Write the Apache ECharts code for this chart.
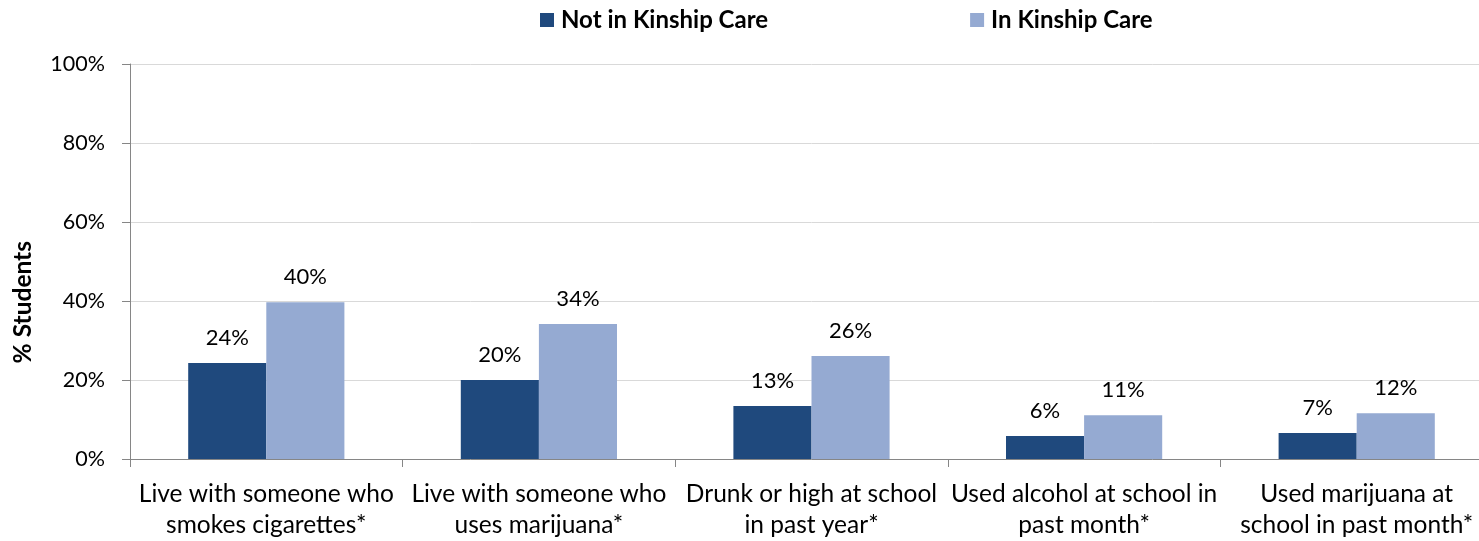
<!DOCTYPE html>
<html>
<head>
<meta charset="utf-8">
<script src="https://cdn.jsdelivr.net/npm/echarts@6/dist/echarts.min.js"></script>
<style>html,body{margin:0;padding:0;background:#fff;overflow:hidden}#c{width:1493px;height:541px}</style>
</head>
<body>
<div id="c"></div>
<script>
const categories = [
  "Live with someone who\nsmokes cigarettes*",
  "Live with someone who\nuses marijuana*",
  "Drunk or high at school\nin past year*",
  "Used alcohol at school in\npast month*",
  "Used marijuana at\nschool in past month*"
];
const seriesNames = ["Not in Kinship Care", "In Kinship Care"];
const notInKinship = [24.3, 20.0, 13.4, 5.8, 6.6];
const inKinship = [39.7, 34.2, 26.1, 11.1, 11.6];
const yTicks = [0, 20, 40, 60, 80, 100];

const FONT = "Lato";
const chart = echarts.init(document.getElementById('c'));
const labelCfg = {
  show: true, position: 'top', distance: 14,
  fontFamily: FONT, fontSize: 22, color: '#000',
  formatter: p => Math.round(p.value) + '%'
};
chart.setOption({
  animation: false,
  textStyle: { fontFamily: FONT },
  legend: {
    data: seriesNames,
    top: 3, left: 535,
    itemWidth: 14, itemHeight: 14, itemGap: 202,
    icon: 'rect',
    textStyle: { fontFamily: FONT, fontSize: 24, fontWeight: 'bold', color: '#000', padding: [0, 0, 0, 2] }
  },
  grid: { left: 130, top: 64, height: 395, right: 0, containLabel: false },
  graphic: [{
    type: 'text', left: 11, top: 241, rotation: Math.PI / 2,
    style: { text: '% Students', fontFamily: FONT, fontSize: 24.5, fontWeight: 'bold', fill: '#000' }
  }],
  xAxis: {
    type: 'category', data: categories,
    axisLine: { lineStyle: { color: '#868686', width: 1 } },
    axisTick: { show: true, length: 8, alignWithLabel: false, lineStyle: { color: '#868686' } },
    axisLabel: { fontFamily: FONT, fontSize: 24.5, color: '#000', lineHeight: 31, margin: 20, interval: 0 }
  },
  yAxis: {
    type: 'value', min: yTicks[0], max: yTicks[yTicks.length - 1], interval: 20,
    axisLine: { show: true, lineStyle: { color: '#868686' } },
    axisTick: { show: true, length: 8, inside: false, lineStyle: { color: '#868686' } },
    axisLabel: { fontFamily: FONT, fontSize: 21.5, color: '#000', margin: 25, formatter: v => v + '%' },
    splitLine: { lineStyle: { color: '#d9d9d9', width: 1 } }
  },
  series: [
    { name: seriesNames[0], type: 'bar', data: notInKinship, barGap: '0%', barCategoryGap: '42.7%',
      itemStyle: { color: '#1F497D' }, label: labelCfg },
    { name: seriesNames[1], type: 'bar', data: inKinship, barGap: '0%', barCategoryGap: '42.7%',
      itemStyle: { color: '#95AAD2' }, label: labelCfg }
  ]
});
</script>
</body>
</html>
